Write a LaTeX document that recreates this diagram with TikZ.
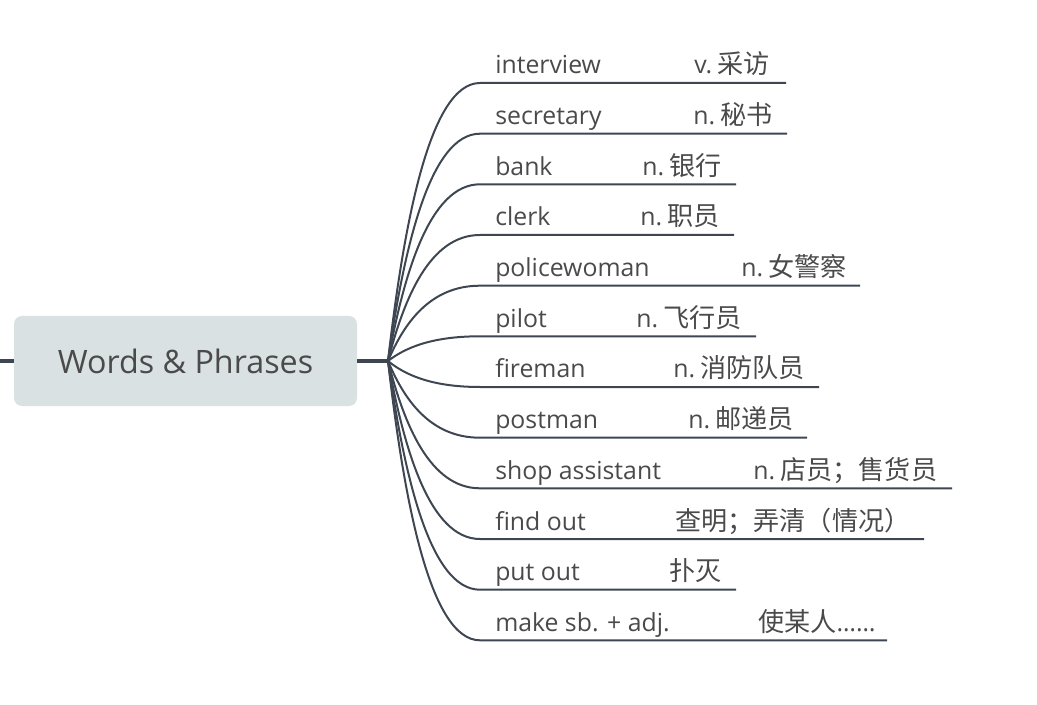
\documentclass[tikz,border=0pt]{standalone}
\usepackage{fontspec}
\setmainfont{Open Sans}
\newfontfamily\cjkfam{Noto Sans CJK SC}
\newcommand{\zh}[1]{{\cjkfam\fontsize{19.6}{21}\selectfont #1}}
\newcommand{\pos}[1]{#1\hspace{4pt}}
\usetikzlibrary{calc}
\definecolor{linec}{HTML}{3E4751}
\definecolor{textc}{HTML}{4A4A4A}
\definecolor{boxc}{HTML}{DAE1E3}
\tikzset{
  branch/.style={draw=linec, line width=1.5pt},
  word/.style={anchor=base west, inner sep=0pt, text=textc, font=\fontsize{18.6}{21}\selectfont},
  rootbox/.style={fill=boxc, rounded corners=6pt, text=textc, font=\fontsize{24.2}{28}\selectfont, minimum width=257.25pt, minimum height=67.5pt, inner sep=0pt}
}
\begin{document}
\begin{tikzpicture}[x=0.75pt, y=-0.75pt]
\useasboundingbox (0,0) rectangle (1037,705);
\node[rootbox] (root) at (185.5,361) {Words \& Phrases};
\coordinate (lstub) at (0,361);
\coordinate (hub) at (388,361);
\draw[draw=linec, line width=3.5pt] (lstub) -- (root.west);
\draw[draw=linec, line width=2.4pt] (root.east) -- (hub);
\foreach \y/\ex/\mx/\w/\m [count=\i] in {
  83/786/694/{interview}/{\pos{v.}\zh{采访}},
  133.7/787/693/{secretary}/{\pos{n.}\zh{秘书}},
  184.3/736/642/{bank}/{\pos{n.}\zh{银行}},
  235/734/640/{clerk}/{\pos{n.}\zh{职员}},
  285.7/860/741/{policewoman}/{\pos{n.}\zh{女警察}},
  336.3/756/636/{pilot}/{\pos{n.}\zh{飞行员}},
  387/819/673/{fireman}/{\pos{n.}\zh{消防队员}},
  437.7/807/688/{postman}/{\pos{n.}\zh{邮递员}},
  488.3/952/753/{shop assistant}/{\pos{n.}\zh{店员；售货员}},
  539/924/675/{find out}/{\zh{查明；弄清（情况）}},
  589.7/736/669/{put out}/{\zh{扑灭}},
  640.3/887/758/{make sb. + adj.}/{\zh{使某人}……}
}{
  \pgfmathsetmacro\cy{361+0.5*(\y-361)}
  \pgfmathsetmacro\by{\y-9}
  \coordinate (b\i) at (480,\y);
  \coordinate (e\i) at (\ex,\y);
  \node[word] (w\i) at (495,\by) {\w};
  \node[word] (m\i) at (\mx,\by) {\m};
  \draw[branch] (hub) .. controls (404,\cy) and (430,\y) .. (b\i) -- (e\i);
}
\end{tikzpicture}
\end{document}
